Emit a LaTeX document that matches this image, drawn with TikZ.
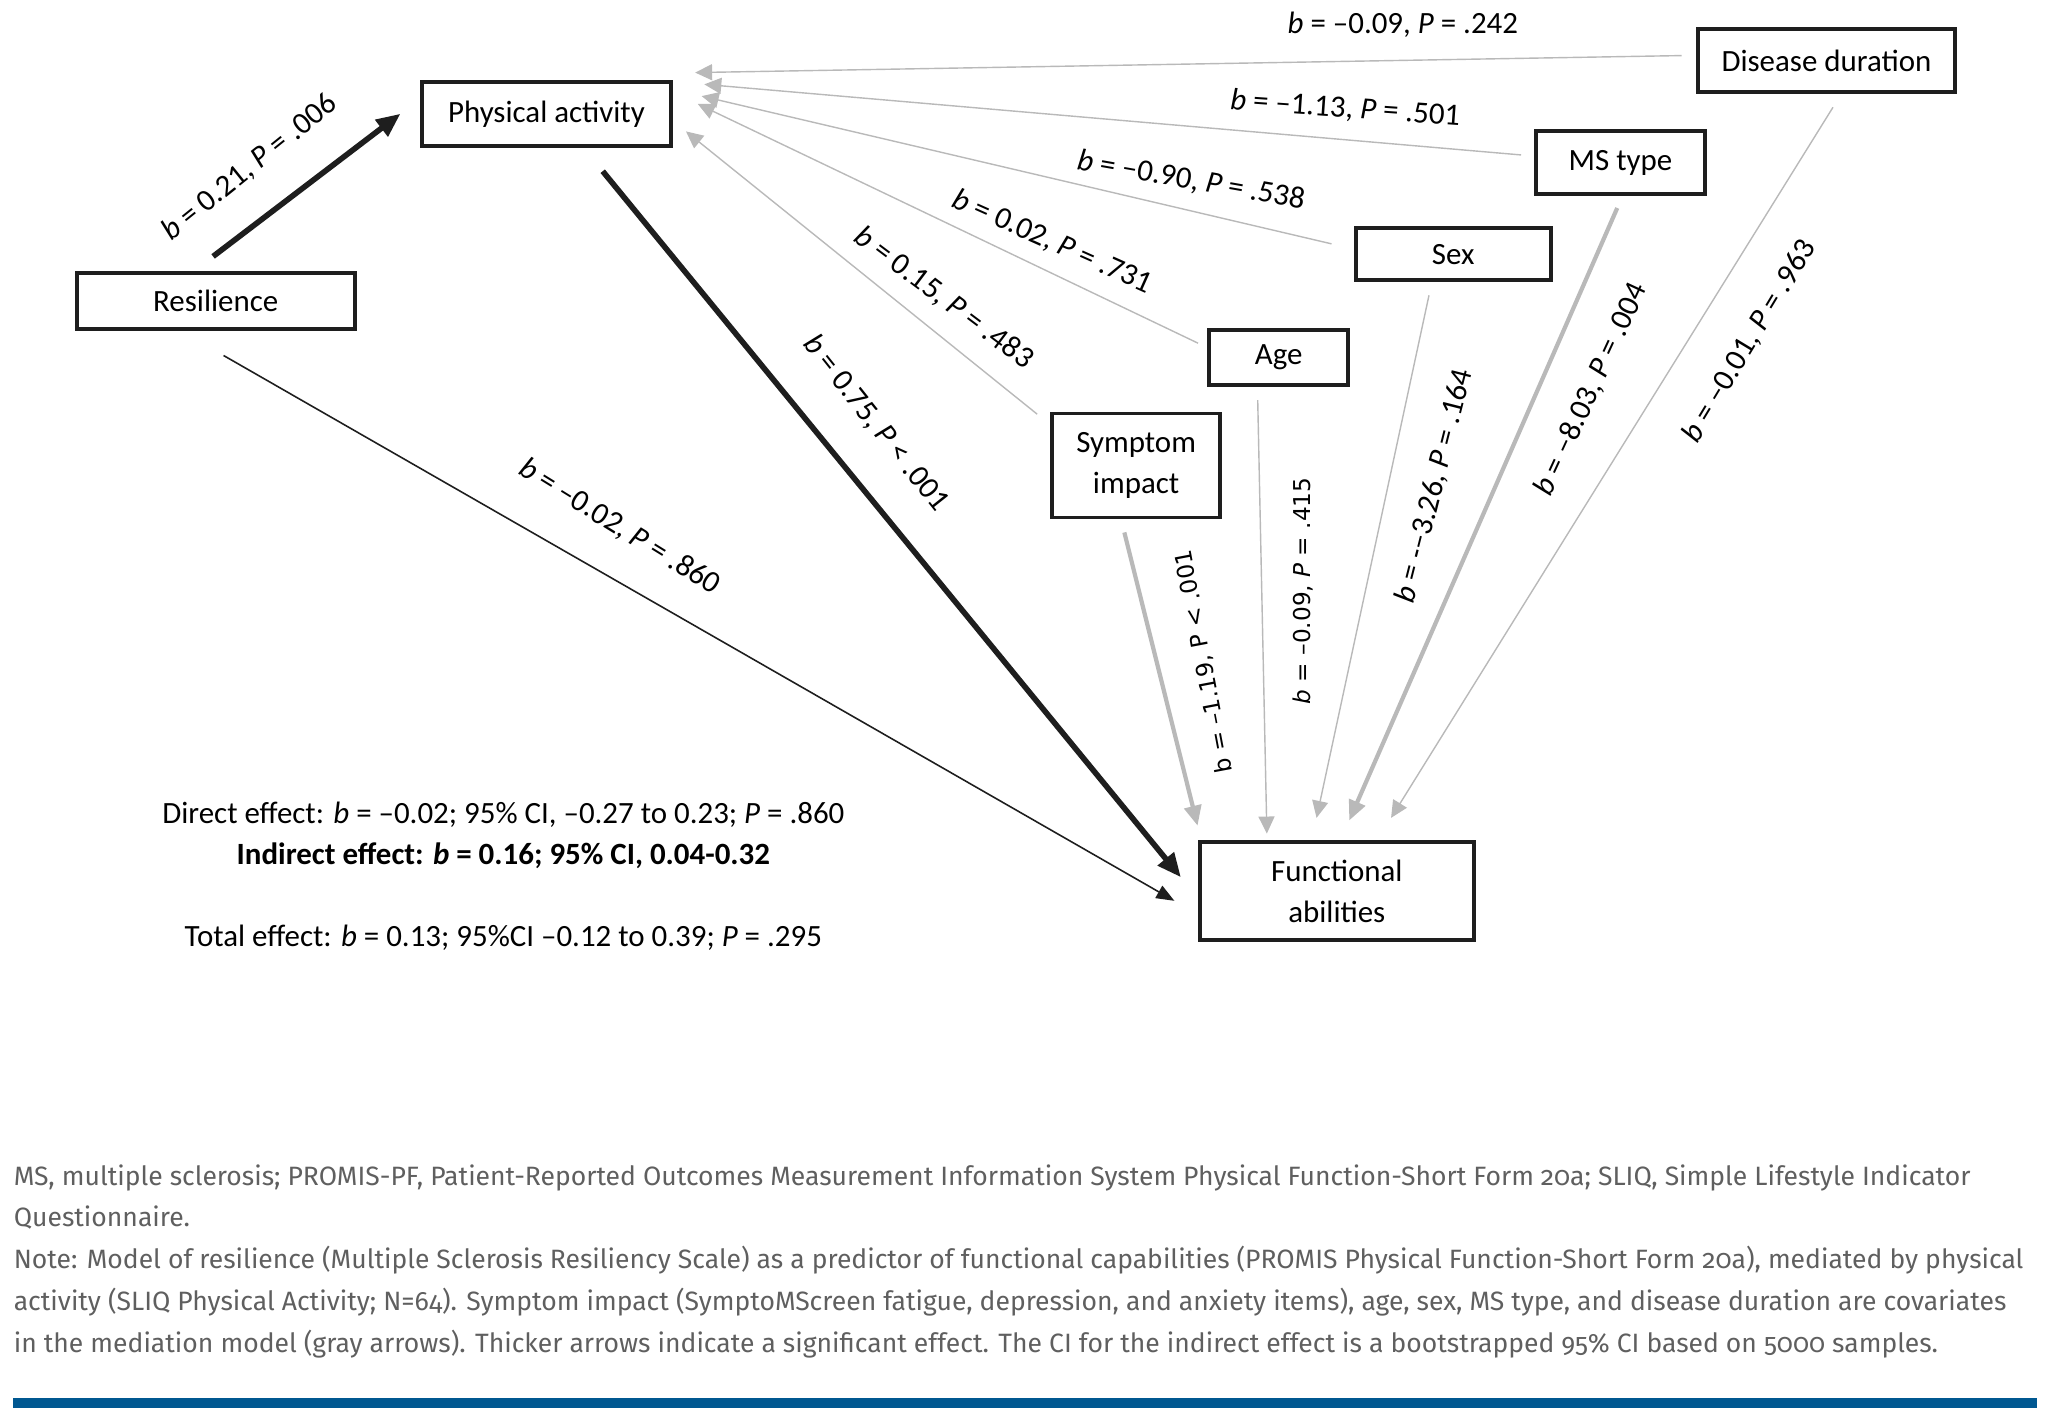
\documentclass[tikz,border=0pt]{standalone}
\usepackage{fontspec}
\setmainfont{Carlito}
\newfontfamily\notefont[Numbers=OldStyle]{Fira Sans}
\newfontfamily\dvfont{DejaVu Sans}
\usetikzlibrary{arrows.meta,calc}

\definecolor{ink}{RGB}{30,30,30}
\definecolor{covgray}{RGB}{185,185,185}
\definecolor{notegray}{RGB}{95,95,95}
\definecolor{barblue}{RGB}{0,88,145}

\tikzset{
  var/.style={draw=ink, line width=1.1pt, inner sep=0pt, align=center,
    font=\fontsize{8.8}{11.6}\selectfont},
  lbl/.style={inner sep=0pt, font=\fontsize{8.8}{10}\selectfont},
  dvlbl/.style={inner sep=0pt, font=\dvfont\fontsize{6.6}{8}\selectfont},
  sigpath/.style={draw=ink, line width=1.6pt, -{Triangle[length=2.4mm,width=2mm]}},
  direct/.style={draw=ink, line width=0.45pt, -{Triangle[length=1.8mm,width=1.4mm]}},
  cov/.style={draw=covgray, line width=0.4pt, -{Triangle[length=1.7mm,width=1.6mm]}},
  sigcov/.style={draw=covgray, line width=1.2pt, -{Triangle[length=2mm,width=1.7mm]}},
}

\begin{document}
\begin{tikzpicture}[x=0.013074cm, y=-0.013074cm]

\useasboundingbox (0,0) rectangle (1568,1085.4);

%variables

\node[var, minimum width=2.78cm, minimum height=0.56cm] (res) at (165,230) {Resilience};
\node[var, minimum width=2.49cm, minimum height=0.64cm] (pa) at (418,87) {Physical activity};
\node[var, minimum width=2.74cm, minimum height=0.98cm] (fa) at (1022.5,681.5) {Functional\\abilities};

%covariates

\node[var, minimum width=2.57cm, minimum height=0.63cm] (dd) at (1397,46.5) {Disease duration};
\node[var, minimum width=1.69cm, minimum height=0.63cm] (mst) at (1239.5,124.5) {MS type};
\node[var, minimum width=1.95cm, minimum height=0.52cm] (sex) at (1111.5,194.5) {Sex};
\node[var, minimum width=1.39cm, minimum height=0.55cm] (age) at (978,273.5) {Age};
\node[var, minimum width=1.68cm, minimum height=1.04cm] (sym) at (869,356) {Symptom\\impact};

%mediation paths

\draw[sigpath] ($(res.north)+(-2,-11)$) -- ($(pa.west)+(-15,0)$);
\draw[sigpath] ($(pa.south)+(43,18)$) -- ($(fa.west)+(-13,-10.5)$);
\draw[direct] ($(res.south)+(6,19)$) -- ($(fa.west)+(-18,7.5)$);

%covariates -> physical activity

\draw[cov] ($(dd.west)+(-11,-4)$) -- ($(pa.east)+(17,-31.5)$);
\draw[cov] ($(mst.west)+(-10,-6)$) -- ($(pa.east)+(24,-22.5)$);
\draw[cov] ($(sex.west)+(-17,-8)$) -- ($(pa.east)+(22,-13.5)$);
\draw[cov] ($(age.west)+(-7,-11)$) -- ($(pa.east)+(19,-7.5)$);
\draw[cov] ($(sym.north west)+(-10,2)$) -- ($(pa.east)+(10,13.5)$);

%covariates -> functional abilities

\draw[sigcov] ($(sym.south)+(-9,10)$) -- ($(fa.north)+(-106.5,-11)$);
\draw[cov] ($(age.south)+(-16,10)$) -- ($(fa.north)+(-53.5,-5)$);
\draw[cov] ($(sex.south)+(-18.5,10)$) -- ($(fa.north)+(-15.5,-17)$);
\draw[sigcov] ($(mst.south)+(-2.5,9)$) -- ($(fa.north)+(9.5,-15)$);
\draw[cov] ($(dd.south)+(5,10)$) -- ($(fa.north)+(41.5,-17)$);

%path labels

\node[lbl, rotate=38.8] (lres) at (191,128) {\textit{b} = 0.21, \textit{P} = .006};
\node[lbl, rotate=-51.5] (lpa) at (670,324) {\textit{b} = 0.75, \textit{P} < .001};
\node[lbl, rotate=-31.7] (ldir) at (474,403) {\textit{b} = \textendash0.02, \textit{P} = .860};

\node[lbl] (ldd) at (1073,19) {\textit{b} = \textendash0.09, \textit{P} = .242};
\node[lbl, rotate=-4] (lmst) at (1029,83) {\textit{b} = \textendash1.13, \textit{P} = .501};
\node[lbl, rotate=-10] (lsex) at (911,138) {\textit{b} = \textendash0.90, \textit{P} = .538};
\node[lbl, rotate=-24] (lage) at (805,185) {\textit{b} = 0.02, \textit{P} = .731};
\node[lbl, rotate=-37] (lsym) at (722,228) {\textit{b} = 0.15, \textit{P} = .483};

\node[dvlbl, rotate=100.7] (lsymf) at (921,506) {b = \textendash1.19, P < .001};
\node[dvlbl, rotate=90] (lagef) at (997,452) {\textit{b} = \textendash0.09, \textit{P} = .415};
\node[lbl, rotate=75.8] (lsexf) at (1097,372) {\textit{b} = -\textendash3.26, \textit{P} = .164};
\node[lbl, rotate=65.2] (lmstf) at (1217,298) {\textit{b} = \textendash8.03, \textit{P} = .004};
\node[lbl, rotate=58.9] (lddf) at (1338,261) {\textit{b} = \textendash0.01, \textit{P} = .963};

%effects

\node[lbl] (direct) at (385,623.5) {Direct effect: \textit{b} = \textendash0.02; 95\% CI, \textendash0.27 to 0.23; \textit{P} = .860};
\node[lbl, font=\fontsize{8.8}{10}\selectfont\bfseries] (indirect) at (385,654.5) {Indirect effect: \textit{b} = 0.16; 95\% CI, 0.04-0.32};
\node[lbl] (total) at (385,717.5) {Total effect: \textit{b} = 0.13; 95\%CI \textendash0.12 to 0.39; \textit{P} = .295};

%note

\node[anchor=north west, inner sep=0pt, align=left, text=notegray,
  font=\notefont\fontsize{7.55}{11.95}\selectfont] (note) at (10,890)
  {MS, multiple sclerosis; PROMIS-PF, Patient-Reported Outcomes Measurement Information System Physical Function-Short Form 20a; SLIQ, Simple Lifestyle Indicator\\
  Questionnaire.\\
  Note: Model of resilience (Multiple Sclerosis Resiliency Scale) as a predictor of functional capabilities (PROMIS Physical Function-Short Form 20a), mediated by physical\\
  activity (SLIQ Physical Activity; N=64). Symptom impact (SymptoMScreen fatigue, depression, and anxiety items), age, sex, MS type, and disease duration are covariates\\
  in the mediation model (gray arrows). Thicker arrows indicate a significant effect. The CI for the indirect effect is a bootstrapped 95\% CI based on 5000 samples.};

\fill[barblue] (10,1069) rectangle (1558,1077);

\end{tikzpicture}
\end{document}
